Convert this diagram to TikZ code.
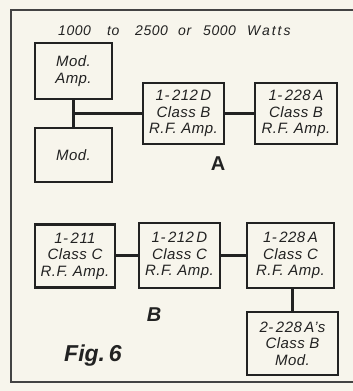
\documentclass[tikz,border=0pt]{standalone}
\usepackage{fontspec}
\setmainfont{Liberation Sans}
\definecolor{paper}{HTML}{F7F5EC}
\definecolor{ink}{HTML}{222222}
\begin{document}
\begin{tikzpicture}[x=1pt,y=-1pt,
  blk/.style={draw=ink,line width=2.2pt,fill=paper,align=center,inner sep=0pt,
    text=ink,font=\itshape\fontsize{15}{16.5}\selectfont\addfontfeatures{LetterSpace=3}},
  wire/.style={draw=ink,line width=2.2pt},
  lab/.style={text=ink,inner sep=0pt},
  tw/.style={lab,anchor=base west,font=\itshape\fontsize{14}{16}\selectfont\addfontfeatures{LetterSpace=4}}]
\fill[paper] (0,0) rectangle (353,391);
\useasboundingbox (0,0) rectangle (353,391);
\begin{scope}
\clip (0,0) rectangle (353,391);
\draw[ink!85,line width=1.8pt] (11,10) rectangle (365,382);
\end{scope}
\node[tw] (t1) at (58,35) {1000};
\node[tw] (t2) at (107,35) {to};
\node[tw] (t3) at (135,35) {2500};
\node[tw] (t4) at (178,35) {or};
\node[tw] (t5) at (203,35) {5000};
\node[tw,font=\itshape\fontsize{14}{16}\selectfont\addfontfeatures{LetterSpace=14}] (t6) at (247,35) {Watts};
% A
\node[blk,minimum width=77pt,minimum height=56pt] (modamp) at (73.5,71) {Mod.\\Amp.};
\node[blk,minimum width=77pt,minimum height=54pt] (mod) at (73.5,155) {Mod.};
\node[blk,minimum width=81pt,minimum height=61pt] (b212) at (183.5,113.5) {1-\,212\,D\\Class B\\R.F. Amp.};
\node[blk,minimum width=82pt,minimum height=61pt] (b228) at (296,113.5) {1-\,228\,A\\Class B\\R.F. Amp.};
\coordinate (j) at (modamp.south |- b212.west);
\draw[wire] (modamp.south) -- (mod.north);
\draw[wire] (j) -- (b212.west);
\draw[wire] (b212.east) -- (b228.west);
\node[lab,font=\bfseries\fontsize{20}{20}\selectfont] (la) at (218,164) {A};
% B
\node[blk,minimum width=80pt,minimum height=63pt] (c211) at (75,256) {1-\,211\\Class C\\R.F. Amp.};
\node[blk,minimum width=81pt,minimum height=65pt] (c212) at (179.5,255.5) {1-\,212\,D\\Class C\\R.F. Amp.};
\node[blk,minimum width=87pt,minimum height=65pt] (c228) at (290.5,255.5) {1-\,228\,A\\Class C\\R.F. Amp.};
\node[blk,minimum width=91pt,minimum height=63pt] (m228) at (292.5,343.5) {2-\,228\,A's\\Class B\\Mod.};
\draw[wire] (c212.west) -- (c212.west -| c211.east);
\draw[wire] (c212.east) -- (c212.east -| c228.west);
\draw[wire] (m228.north) -- (m228.north |- c228.south);
\node[lab,font=\bfseries\itshape\fontsize{20}{20}\selectfont] (lb) at (154,315) {B};
\node[lab,font=\bfseries\itshape\fontsize{23}{23}\selectfont] (fig) at (93,356) {Fig.\,6};
\end{tikzpicture}
\end{document}
